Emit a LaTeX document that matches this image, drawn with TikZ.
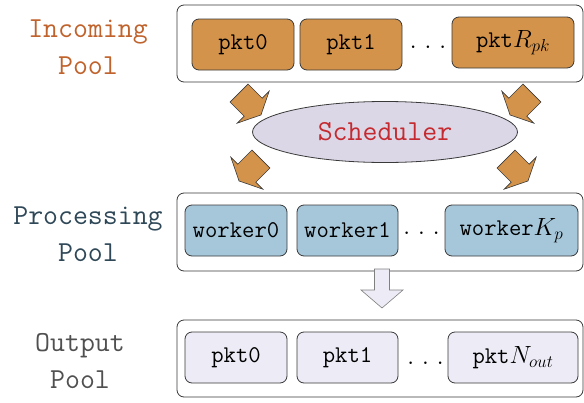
\documentclass[tikz,border=0pt]{standalone}
\usepackage{fontspec}
\usetikzlibrary{shapes}

\definecolor{inorange}{HTML}{D4934A}
\definecolor{wkblue}{HTML}{A6C7DA}
\definecolor{outlav}{HTML}{EDEBF5}
\definecolor{schedlav}{HTML}{DCD7E7}
\definecolor{incomingtxt}{HTML}{C0622B}
\definecolor{processtxt}{HTML}{2F4858}
\definecolor{outputtxt}{HTML}{505050}
\definecolor{schedtxt}{HTML}{C42A2F}
\definecolor{edgegray}{HTML}{3A3A3A}

\newcommand{\wdots}{.\hspace{7pt}.\hspace{7pt}.}

\tikzset{
  poolbox/.style={shape=rectangle,draw=edgegray,fill=white,rounded corners=7pt,line width=0.8pt,inner sep=0pt},
  itembox/.style={shape=rectangle,draw=edgegray,rounded corners=7pt,line width=0.8pt,inner sep=0pt,
    minimum height=51pt,font=\ttfamily\fontsize{24}{28}\selectfont},
  pktin/.style={itembox,fill=inorange},
  worker/.style={itembox,fill=wkblue},
  pktout/.style={itembox,fill=outlav},
  dotsnode/.style={inner sep=0pt,font=\fontsize{31}{34}\selectfont},
  poollabel/.style={align=center,inner sep=0pt,font=\ttfamily\fontsize{29}{37}\selectfont},
  arrowbody/.style={draw=edgegray,fill=inorange,line width=0.6pt,line join=miter},
  fatarrow/.pic={\draw[arrowbody] (-15.5,12.7) -- (4.5,12.7) -- (4.5,22.6) -- (15.5,0)
      -- (4.5,-22.6) -- (4.5,-12.7) -- (-15.5,-12.7) -- cycle;}
}

\begin{document}
\begin{tikzpicture}[x=1pt,y=-1pt]
\useasboundingbox (0,0) rectangle (584,402);

% pool labels
\node[poollabel,text=incomingtxt] (inlabel) at (88,47) {Incoming\\Pool};
\node[poollabel,text=processtxt] (proclabel) at (88,234) {Processing\\Pool};
\node[poollabel,text=outputtxt] (outlabel) at (80,361) {Output\\Pool};

% incoming pool
\node[poolbox,minimum width=406pt,minimum height=77pt] (inpool) at (380,43.5) {};
\node[pktin,minimum width=102pt] (in0) at (243,44.5) {pkt0};
\node[pktin,minimum width=102pt] (in1) at (351,44.5) {pkt1};
\node[dotsnode] (indots) at (428,47) {\wdots};
\node[pktin,minimum width=122pt] (inR) at (513,42.5) {pkt$R_{pk}$};

% scheduler
\node[shape=ellipse,draw=edgegray,fill=schedlav,line width=0.8pt,minimum width=265pt,minimum height=61pt,
  text=schedtxt,font=\ttfamily\fontsize{29}{34}\selectfont] (sched) at (385,132) {Scheduler};

\pic[rotate=-45] at (250,104) {fatarrow};
\pic[rotate=-135] at (521,104) {fatarrow};
\pic[rotate=-135] at (250,170) {fatarrow};
\pic[rotate=-45] at (517,170) {fatarrow};

% processing pool
\node[poolbox,minimum width=406pt,minimum height=78pt] (procpool) at (380,232) {};
\node[worker,minimum width=102pt] (wk0) at (236,230.5) {worker0};
\node[worker,minimum width=101pt] (wk1) at (347.5,230.5) {worker1};
\node[dotsnode] (wkdots) at (421.5,233) {\wdots};
\node[worker,minimum width=133pt] (wkK) at (511.5,230.5) {worker$K_p$};

% processing -> output
\draw[draw=gray,fill=outlav,line width=0.6pt] (374.5,269) -- (389.5,269) -- (389.5,290) -- (403,290)
  -- (382,308) -- (361,290) -- (374.5,290) -- cycle;

% output pool
\node[poolbox,minimum width=406pt,minimum height=77pt] (outpool) at (380,358.5) {};
\node[pktout,minimum width=102pt] (out0) at (236,357.5) {pkt0};
\node[pktout,minimum width=101pt] (out1) at (347.5,357.5) {pkt1};
\node[dotsnode] (outdots) at (425.5,363) {\wdots};
\node[pktout,minimum width=130pt] (outN) at (513,357.5) {pkt$N_{out}$};
\end{tikzpicture}
\end{document}
